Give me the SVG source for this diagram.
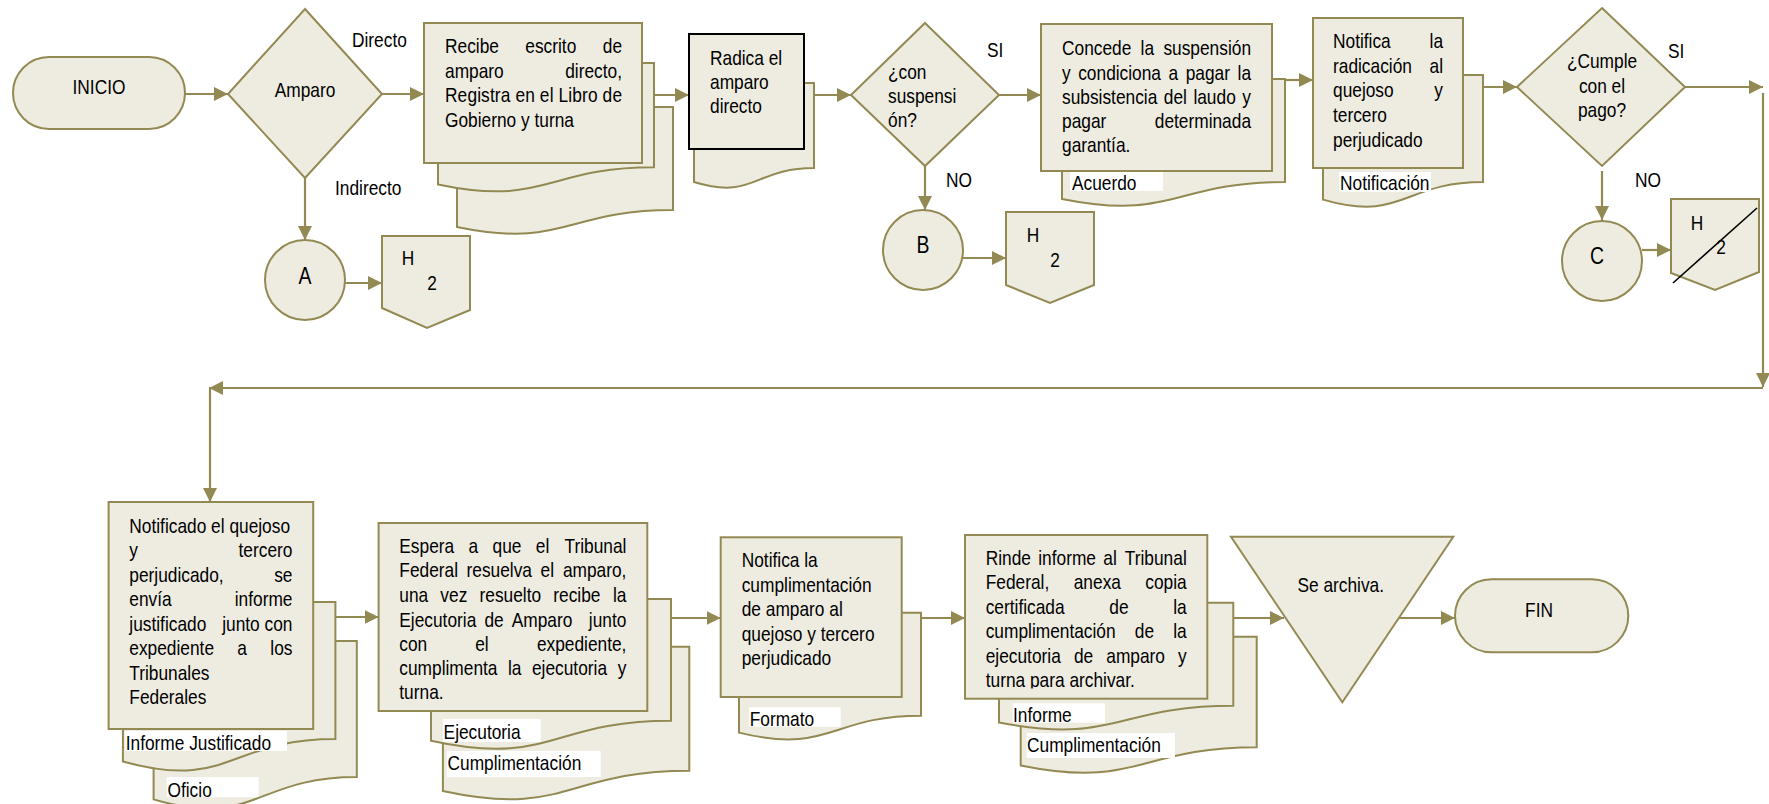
<svg xmlns="http://www.w3.org/2000/svg" width="1769" height="804" viewBox="0 0 1769 804">
<style>
.n{fill:#EEECE1;stroke:#938953;stroke-width:2}
.k{fill:#EEECE1;stroke:#000;stroke-width:2}
.lab{fill:#fff;stroke:none}
text{font-family:"Liberation Sans",Arial,sans-serif;font-size:20.5px;fill:#000}
.e{text-anchor:end}
.m{text-anchor:middle}
.big{font-size:23px}
.c{stroke:#938953;stroke-width:2.2;fill:none;marker-end:url(#ah)}
</style>
<defs>
<marker id="ah" markerUnits="userSpaceOnUse" markerWidth="14" markerHeight="14" viewBox="0 0 14 14" refX="14" refY="7" orient="auto">
<path d="M0,0 L14,7 L0,14 z" fill="#938953"/>
</marker>
<clipPath id="clipRinde"><rect x="965" y="535" width="242" height="153.5"/></clipPath>
</defs>
<rect width="1769" height="804" fill="#fff"/>

<g id="connectors">
<line class="c" x1="185" y1="94" x2="228" y2="94"/>
<line class="c" x1="382" y1="94" x2="424" y2="94"/>
<line class="c" x1="305" y1="178" x2="305" y2="240"/>
<line class="c" x1="345" y1="283" x2="382" y2="283"/>
<line class="c" x1="654" y1="95" x2="689" y2="95"/>
<line class="c" x1="814" y1="95" x2="851" y2="95"/>
<line class="c" x1="999" y1="95" x2="1041" y2="95"/>
<line class="c" x1="925" y1="166" x2="925" y2="210"/>
<line class="c" x1="963" y1="258" x2="1006" y2="258"/>
<line class="c" x1="1285" y1="80" x2="1313" y2="80"/>
<line class="c" x1="1483" y1="87" x2="1517" y2="87"/>
<line class="c" x1="1685" y1="87" x2="1763" y2="87"/>
<line class="c" x1="1763" y1="93" x2="1763" y2="387"/>
<line class="c" x1="1763" y1="388" x2="209" y2="388"/>
<line class="c" x1="210" y1="388" x2="210" y2="502"/>
<line class="c" x1="1602" y1="171" x2="1602" y2="220"/>
<line class="c" x1="1642" y1="250" x2="1671" y2="250"/>
<line class="c" x1="335.4" y1="617" x2="378.6" y2="617"/>
<line class="c" x1="671" y1="618" x2="720.7" y2="618"/>
<line class="c" x1="921" y1="618" x2="965" y2="618"/>
<line class="c" x1="1233.3" y1="618" x2="1284" y2="618"/>
<line class="c" x1="1398.5" y1="618" x2="1455" y2="618"/>
</g>

<g id="labels-conn">
<g transform="translate(352 0) scale(0.845 1)"><text x="0" y="47">Directo</text></g>
<g transform="translate(335 0) scale(0.845 1)"><text x="0" y="195">Indirecto</text></g>
<g transform="translate(987 0) scale(0.845 1)"><text x="0" y="57">SI</text></g>
<g transform="translate(946 0) scale(0.845 1)"><text x="0" y="187">NO</text></g>
<g transform="translate(1668 0) scale(0.845 1)"><text x="0" y="58">SI</text></g>
<g transform="translate(1635 0) scale(0.845 1)"><text x="0" y="187">NO</text></g>
</g>

<g id="inicio">
<rect class="n" x="13" y="57" width="172" height="72" rx="36"/>
<g transform="translate(99 0) scale(0.845 1)"><text class="m" x="0" y="94">INICIO</text></g>
</g>

<g id="amparo">
<polygon class="n" points="305,9 382,94 305,178 228,94"/>
<g transform="translate(305 0) scale(0.845 1)"><text class="m" x="0" y="97">Amparo</text></g>
</g>

<g id="conA">
<circle class="n" cx="305" cy="280" r="40"/>
<g transform="translate(305 0) scale(0.845 1)"><text class="m big" x="0" y="284">A</text></g>
</g>

<g id="hojaA">
<polygon class="n" points="382,236 470,236 470,310 427,328 382,308"/>
<g transform="translate(408 0) scale(0.845 1)"><text class="m" x="0" y="265">H</text></g>
<g transform="translate(432 0) scale(0.845 1)"><text class="m" x="0" y="290">2</text></g>
</g>

<g id="recibe">
<path class="n" d="M457,107 H673 V210 C565,210 565,249.2 457,226.9 Z"/>
<path class="n" d="M438,63 H654 V167.3 C546,167.3 546,207 438,184.4 Z"/>
<rect class="n" x="424" y="23" width="218" height="140"/>
<g transform="translate(445 0) scale(0.845 1)">
<text x="0" y="53">Recibe</text><text x="95" y="53">escrito</text><text class="e" x="209.5" y="53">de</text>
<text x="0" y="78">amparo</text><text class="e" x="209.5" y="78">directo,</text>
<text x="0" y="102" textLength="209.5" lengthAdjust="spacing">Registra en el Libro de</text>
<text x="0" y="127">Gobierno y turna</text>
</g>
</g>

<g id="radica">
<path class="n" d="M694,83 H814 V168 C754,168 754,200.4 694,182 Z"/>
<rect class="k" x="689" y="34" width="115" height="115"/>
<g transform="translate(710 0) scale(0.845 1)">
<text x="0" y="65">Radica el</text>
<text x="0" y="89">amparo</text>
<text x="0" y="113">directo</text>
</g>
</g>

<g id="suspension">
<polygon class="n" points="925,23 999,95 925,166 851,95"/>
<g transform="translate(888 0) scale(0.845 1)">
<text x="0" y="79">¿con</text>
<text x="0" y="103">suspensi</text>
<text x="0" y="127">ón?</text>
</g>
</g>

<g id="conB">
<circle class="n" cx="923" cy="250" r="40"/>
<g transform="translate(923 0) scale(0.845 1)"><text class="m big" x="0" y="253">B</text></g>
</g>

<g id="hojaB">
<polygon class="n" points="1006,212 1094,212 1094,285 1050,303 1006,285"/>
<g transform="translate(1033 0) scale(0.845 1)"><text class="m" x="0" y="242">H</text></g>
<g transform="translate(1055 0) scale(0.845 1)"><text class="m" x="0" y="267">2</text></g>
</g>

<g id="concede">
<path class="n" d="M1062,79 H1285 V182 C1173.5,182 1173.5,221.2 1062,198.9 Z"/>
<rect class="n" x="1041" y="24" width="231" height="147"/>
<rect class="lab" x="1070" y="172" width="93" height="19"/>
<g transform="translate(1062 0) scale(0.845 1)">
<text x="0" y="55">Concede</text><text x="93" y="55">la</text><text class="e" x="223.7" y="55">suspensión</text>
<text x="0" y="80">y</text><text x="19.2" y="80">condiciona</text><text x="126" y="80">a</text><text x="146.4" y="80">pagar</text><text class="e" x="223.7" y="80">la</text>
<text x="0" y="104">subsistencia</text><text x="120.5" y="104">del</text><text x="155.5" y="104">laudo</text><text class="e" x="223.7" y="104">y</text>
<text x="0" y="128">pagar</text><text class="e" x="223.7" y="128">determinada</text>
<text x="0" y="152">garantía.</text>
</g>
<g transform="translate(1072 0) scale(0.845 1)"><text x="0" y="190">Acuerdo</text></g>
</g>

<g id="notifica">
<path class="n" d="M1323,75 H1483 V182 C1403,182 1403,222.7 1323,199.6 Z"/>
<rect class="n" x="1313" y="18" width="150" height="150"/>
<rect class="lab" x="1339" y="172" width="92" height="20"/>
<g transform="translate(1333 0) scale(0.845 1)">
<text x="0" y="48">Notifica</text><text class="e" x="130.2" y="48">la</text>
<text x="0" y="73">radicación</text><text class="e" x="130.2" y="73">al</text>
<text x="0" y="97">quejoso</text><text class="e" x="130.2" y="97">y</text>
<text x="0" y="122">tercero</text>
<text x="0" y="147">perjudicado</text>
</g>
<g transform="translate(1340 0) scale(0.845 1)"><text x="0" y="190">Notificación</text></g>
</g>

<g id="cumple">
<polygon class="n" points="1602,8 1685,87 1602,166 1517,87"/>
<g transform="translate(1602 0) scale(0.845 1)">
<text class="m" x="0" y="68">¿Cumple</text>
<text class="m" x="0" y="93">con el</text>
<text class="m" x="0" y="117">pago?</text>
</g>
</g>

<g id="conC">
<circle class="n" cx="1602" cy="261" r="40"/>
<g transform="translate(1597 0) scale(0.845 1)"><text class="m big" x="0" y="264">C</text></g>
</g>

<g id="hojaC">
<polygon class="n" points="1671,199 1759,199 1759,272 1715,290 1671,273"/>
<g transform="translate(1697 0) scale(0.845 1)"><text class="m" x="0" y="230">H</text></g>
<g transform="translate(1721 0) scale(0.845 1)"><text class="m" x="0" y="254">2</text></g>
<line x1="1673" y1="283" x2="1757" y2="208" stroke="#000" stroke-width="1.6"/>
</g>

<g id="notificado">
<path class="n" d="M153.6,641 H356.8 V777 C255.2,777 255.2,828.8 153.6,799.4 Z"/>
<path class="n" d="M122.9,602 H335.4 V739 C229.2,739 229.2,791.2 122.9,761.5 Z"/>
<rect class="n" x="108.6" y="502" width="204.6" height="227"/>
<rect class="lab" x="125" y="731" width="162" height="20"/>
<rect class="lab" x="166.8" y="777" width="91.8" height="20"/>
<g transform="translate(129.3 0) scale(0.845 1)">
<text x="0" y="533">Notificado el quejoso</text>
<text x="0" y="557">y</text><text class="e" x="193.1" y="557">tercero</text>
<text x="0" y="582">perjudicado,</text><text class="e" x="193.1" y="582">se</text>
<text x="0" y="606">envía</text><text class="e" x="193.1" y="606">informe</text>
<text x="0" y="631">justificado</text><text class="e" x="193.1" y="631">junto con</text>
<text x="0" y="655">expediente</text><text x="127.9" y="655">a</text><text class="e" x="193.1" y="655">los</text>
<text x="0" y="680">Tribunales</text>
<text x="0" y="704">Federales</text>
</g>
<g transform="translate(125.7 0) scale(0.845 1)"><text x="0" y="750">Informe Justificado</text></g>
<g transform="translate(167.5 0) scale(0.845 1)"><text x="0" y="797">Oficio</text></g>
</g>

<g id="espera">
<path class="n" d="M442.9,646.7 H689.3 V770.7 C566.1,770.7 566.1,817.9 442.9,791.1 Z"/>
<path class="n" d="M431,599 H671 V720.7 C551,720.7 551,767 431,740.7 Z"/>
<rect class="n" x="378.6" y="523" width="268.7" height="188"/>
<rect class="lab" x="442.9" y="719" width="97.8" height="23"/>
<rect class="lab" x="447" y="751" width="153.7" height="26"/>
<g transform="translate(399.3 0) scale(0.845 1)">
<text x="0" y="553">Espera</text><text x="81.9" y="553">a</text><text x="110.3" y="553">que</text><text x="161.5" y="553">el</text><text class="e" x="268.8" y="553">Tribunal</text>
<text x="0" y="577">Federal</text><text x="79.6" y="577">resuelva</text><text x="167.2" y="577">el</text><text class="e" x="268.8" y="577">amparo,</text>
<text x="0" y="602">una</text><text x="48.6" y="602">vez</text><text x="94.9" y="602">resuelto</text><text x="182.2" y="602">recibe</text><text class="e" x="268.8" y="602">la</text>
<text x="0" y="627">Ejecutoria</text><text x="100.7" y="627">de</text><text x="133" y="627">Amparo</text><text class="e" x="268.8" y="627">junto</text>
<text x="0" y="651">con</text><text x="89.8" y="651">el</text><text class="e" x="268.8" y="651">expediente,</text>
<text x="0" y="675">cumplimenta</text><text x="128.6" y="675">la</text><text x="157" y="675">ejecutoria</text><text class="e" x="268.8" y="675">y</text>
<text x="0" y="699">turna.</text>
</g>
<g transform="translate(443.6 0) scale(0.845 1)"><text x="0" y="739">Ejecutoria</text></g>
<g transform="translate(447.5 0) scale(0.845 1)"><text x="0" y="770">Cumplimentación</text></g>
</g>

<g id="notificaCump">
<path class="n" d="M739,612.7 H921 V715.7 C830,715.7 830,754.9 739,732.6 Z"/>
<rect class="n" x="720.7" y="537.3" width="181" height="159.7"/>
<rect class="lab" x="749" y="707.3" width="91.7" height="19.4"/>
<g transform="translate(741.7 0) scale(0.845 1)">
<text x="0" y="567">Notifica la</text>
<text x="0" y="592">cumplimentación</text>
<text x="0" y="616">de amparo al</text>
<text x="0" y="641">quejoso y tercero</text>
<text x="0" y="665">perjudicado</text>
</g>
<g transform="translate(749.7 0) scale(0.845 1)"><text x="0" y="726">Formato</text></g>
</g>

<g id="rinde">
<path class="n" d="M1020.7,636.7 H1256.7 V747.3 C1138.7,747.3 1138.7,789.4 1020.7,765.5 Z"/>
<path class="n" d="M999,602.7 H1233.3 V705.7 C1116.2,705.7 1116.2,744.9 999,722.6 Z"/>
<rect class="n" x="965" y="535" width="242.3" height="163.7"/>
<rect class="lab" x="1012.7" y="703.3" width="92.3" height="19.4"/>
<rect class="lab" x="1026.7" y="733" width="148.3" height="25"/>
<g clip-path="url(#clipRinde)">
<g transform="translate(985.7 0) scale(0.845 1)">
<text x="0" y="565">Rinde</text><text x="62.2" y="565">informe</text><text x="139.2" y="565">al</text><text class="e" x="237.9" y="565">Tribunal</text>
<text x="0" y="589">Federal,</text><text x="104.2" y="589">anexa</text><text class="e" x="237.9" y="589">copia</text>
<text x="0" y="614">certificada</text><text x="146.3" y="614">de</text><text class="e" x="237.9" y="614">la</text>
<text x="0" y="638">cumplimentación</text><text x="176.5" y="638">de</text><text class="e" x="237.9" y="638">la</text>
<text x="0" y="663">ejecutoria</text><text x="104.4" y="663">de</text><text x="142.7" y="663">amparo</text><text class="e" x="237.9" y="663">y</text>
<text x="0" y="687">turna para archivar.</text>
</g>
</g>
<g transform="translate(1013 0) scale(0.845 1)"><text x="0" y="722">Informe</text></g>
<g transform="translate(1027 0) scale(0.845 1)"><text x="0" y="752">Cumplimentación</text></g>
</g>

<g id="archiva">
<polygon class="n" points="1231,536.7 1453.3,536.7 1342.3,702.3"/>
<g transform="translate(1340.7 0) scale(0.845 1)"><text class="m" x="0" y="592">Se archiva.</text></g>
</g>

<g id="fin">
<rect class="n" x="1455" y="579.3" width="173.3" height="73" rx="36.5"/>
<g transform="translate(1539 0) scale(0.845 1)"><text class="m" x="0" y="617">FIN</text></g>
</g>
</svg>
